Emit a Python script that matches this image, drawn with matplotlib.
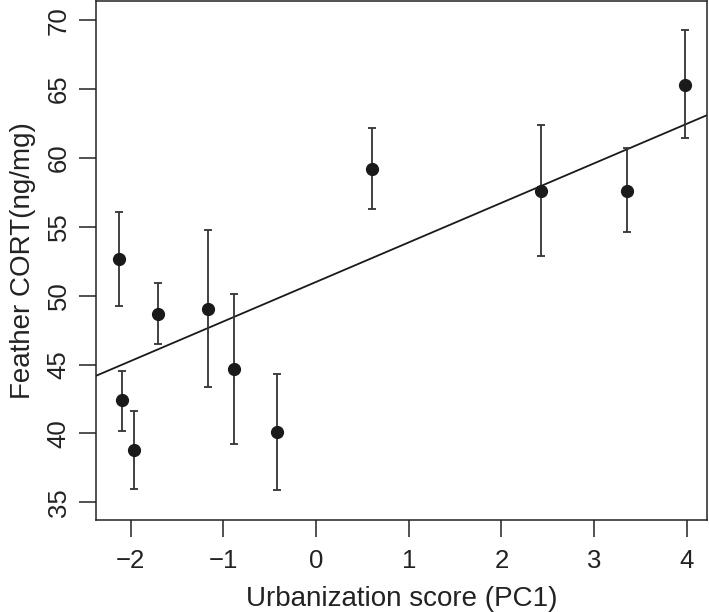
import matplotlib
matplotlib.use("Agg")
import matplotlib.pyplot as plt
import numpy as np

plt.rcParams['font.family'] = ['Liberation Sans', 'DejaVu Sans']

# urbanization score (PC1), feather CORT mean and error bar limits
pc1 = [-2.13, -2.09, -1.96, -1.71, -1.17, -0.89, -0.42, 0.60, 2.43, 3.35, 3.98]
cort = [52.7, 42.4, 38.8, 48.7, 49.0, 44.7, 40.1, 59.2, 57.6, 57.6, 65.3]
err_low = [49.25, 40.2, 35.95, 46.5, 43.35, 39.25, 35.9, 56.3, 52.9, 54.6, 61.45]
err_high = [56.1, 44.5, 41.6, 50.95, 54.8, 50.1, 44.3, 62.2, 62.4, 60.7, 69.3]

# fitted line (intercept, slope)
fit_intercept = 51.0
fit_slope = 2.87

xticks = [-2, -1, 0, 1, 2, 3, 4]
yticks = [35, 40, 45, 50, 55, 60, 65, 70]

fig = plt.figure(figsize=(7.09, 6.12), dpi=100)
ax = fig.add_axes([0.135, 0.150, 0.862, 0.848])

x = np.array(pc1)
y = np.array(cort)
lo = y - np.array(err_low)
hi = np.array(err_high) - y

ax.errorbar(x, y, yerr=[lo, hi], fmt='none', ecolor='#333333',
            elinewidth=1.3, capsize=3, capthick=1.3, zorder=2)
ax.plot(x, y, 'o', color='#1a1a1a', markersize=8.5, zorder=3)

xlim = (-2.378, 4.217)
xs = np.array(xlim)
ax.plot(xs, fit_intercept + fit_slope * xs, color='#1a1a1a', lw=1.3, zorder=1)

ax.set_xlim(*xlim)
ax.set_ylim(33.7, 71.38)
ax.set_xticks(xticks)
ax.set_xticklabels([str(t).replace('-', '\u2212') for t in xticks])
ax.set_yticks(yticks)
ax.set_yticklabels([str(t) for t in yticks], rotation=90, va='center')

ax.tick_params(axis='x', direction='out', length=12, width=1.1,
               labelsize=18.5, colors='#222222', pad=9)
ax.tick_params(axis='y', direction='out', length=12, width=1.1,
               labelsize=18.5, colors='#222222', pad=6)
for s in ax.spines.values():
    s.set_linewidth(1.1)
    s.set_color('#222222')

ax.set_xlabel('Urbanization score (PC1)', fontsize=20, color='#222222', labelpad=9)
ax.set_ylabel('Feather CORT(ng/mg)', fontsize=20, color='#222222', labelpad=8)

plt.savefig('out.png', dpi=100)
